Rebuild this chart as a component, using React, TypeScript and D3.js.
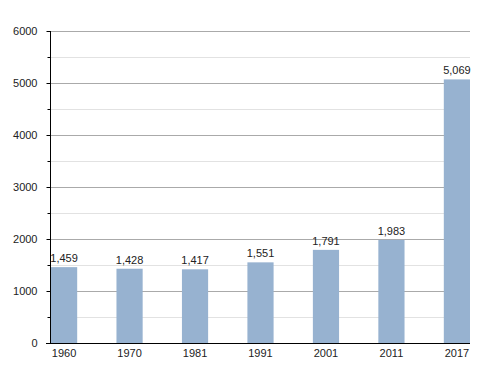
import React, { useEffect, useRef } from 'react';
import * as d3 from 'd3';

const years = ['1960', '1970', '1981', '1991', '2001', '2011', '2017'];
const population = [1459, 1428, 1417, 1551, 1791, 1983, 5069];
const majorTicks = [0, 1000, 2000, 3000, 4000, 5000, 6000];
const minorTicks = [500, 1500, 2500, 3500, 4500, 5500];

export default function App() {
  const ref = useRef<SVGSVGElement>(null);

  useEffect(() => {
    const svg = d3.select(ref.current);
    svg.selectAll('*').remove();

    const left = 50;
    const right = 470;
    const top = 31;
    const bottom = 343;

    const y = d3.scaleLinear().domain([0, 6000]).range([bottom, top]);
    const x = d3.scaleBand<string>()
      .domain(years)
      .range([left + 1, right])
      .paddingInner(0.6)
      .paddingOuter(0);

    // minor gridlines
    svg.append('g')
      .selectAll('line')
      .data(minorTicks)
      .enter()
      .append('line')
        .attr('x1', left)
        .attr('x2', right)
        .attr('y1', d => y(d) + 0.5)
        .attr('y2', d => y(d) + 0.5)
        .attr('stroke', '#e2e2e2');

    // major gridlines
    svg.append('g')
      .selectAll('line')
      .data(majorTicks.slice(1))
      .enter()
      .append('line')
        .attr('x1', left)
        .attr('x2', right)
        .attr('y1', d => y(d) + 0.5)
        .attr('y2', d => y(d) + 0.5)
        .attr('stroke', '#aaaaaa');

    // bars
    svg.append('g')
      .selectAll('rect')
      .data(population)
      .enter()
      .append('rect')
        .attr('x', (d, i) => x(years[i]) as number)
        .attr('width', x.bandwidth())
        .attr('y', d => y(d))
        .attr('height', d => bottom - y(d))
        .attr('fill', '#97b2d0');

    // value labels
    svg.append('g')
      .selectAll('text')
      .data(population)
      .enter()
      .append('text')
        .attr('x', (d, i) => (x(years[i]) as number) + x.bandwidth() / 2)
        .attr('y', d => y(d) - 5)
        .attr('text-anchor', 'middle')
        .attr('font-family', 'Liberation Sans, Arial, sans-serif')
        .attr('font-size', 11)
        .attr('fill', '#222')
        .text(d => d3.format(',')(d));

    // y axis
    const yAxis = svg.append('g').attr('transform', `translate(${left + 0.5},0)`);
    yAxis.append('line')
      .attr('y1', top).attr('y2', bottom)
      .attr('stroke', '#000');
    yAxis.selectAll('line.minor')
      .data(minorTicks)
      .enter()
      .append('line')
        .attr('class', 'minor')
        .attr('x1', -3).attr('x2', 0)
        .attr('y1', d => y(d) + 0.5).attr('y2', d => y(d) + 0.5)
        .attr('stroke', '#000');
    yAxis.selectAll('line.major')
      .data(majorTicks)
      .enter()
      .append('line')
        .attr('class', 'major')
        .attr('x1', -4).attr('x2', 0)
        .attr('y1', d => y(d) + 0.5).attr('y2', d => y(d) + 0.5)
        .attr('stroke', '#000');
    yAxis.selectAll('text')
      .data(majorTicks)
      .enter()
      .append('text')
        .attr('x', -13)
        .attr('y', d => y(d) + 4)
        .attr('text-anchor', 'end')
        .attr('font-family', 'Liberation Sans, Arial, sans-serif')
        .attr('font-size', 11)
        .attr('fill', '#222')
        .text(d => d);

    // x axis
    const xAxis = svg.append('g').attr('transform', `translate(0,${bottom + 0.5})`);
    xAxis.append('line')
      .attr('x1', left - 4).attr('x2', right)
      .attr('stroke', '#000');
    xAxis.selectAll('text')
      .data(years)
      .enter()
      .append('text')
        .attr('x', d => (x(d) as number) + x.bandwidth() / 2)
        .attr('y', 13)
        .attr('text-anchor', 'middle')
        .attr('font-family', 'Liberation Sans, Arial, sans-serif')
        .attr('font-size', 11)
        .attr('fill', '#222')
        .text(d => d);
  }, []);

  return (
    <svg
      ref={ref}
      width={500}
      height={373}
      style={{ position: 'absolute', left: 0, top: 0, background: '#fff' }}
    />
  );
}
